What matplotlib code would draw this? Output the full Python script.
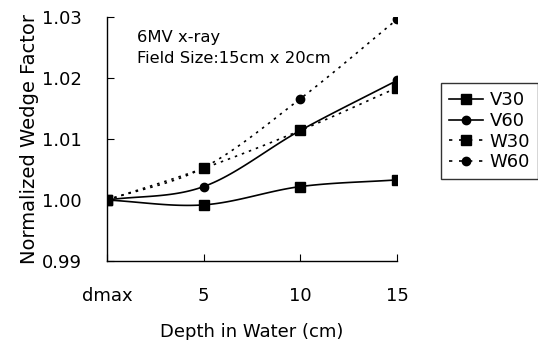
import numpy as np
import matplotlib
matplotlib.use("Agg")
import matplotlib.pyplot as plt

plt.rcParams['font.family'] = ['DejaVu Sans']

categories = ["dmax", "5", "10", "15"]
V30 = [1.0000, 0.9992, 1.0022, 1.0033]
V60 = [1.0000, 1.0022, 1.0114, 1.0196]
W30 = [1.0000, 1.0052, 1.0114, 1.0184]
W60 = [1.0000, 1.0053, 1.0166, 1.0296]
yticks = [0.99, 1.00, 1.01, 1.02, 1.03]


def smooth(xs, ys, n=30):
    xs = np.asarray(xs, float)
    ys = np.asarray(ys, float)
    px = np.concatenate([[2 * xs[0] - xs[1]], xs, [2 * xs[-1] - xs[-2]]])
    py = np.concatenate([[2 * ys[0] - ys[1]], ys, [2 * ys[-1] - ys[-2]]])
    outx, outy = [], []
    t = np.linspace(0, 1, n)
    for i in range(1, len(px) - 2):
        for arr, out in ((px, outx), (py, outy)):
            p0, p1, p2, p3 = arr[i - 1], arr[i], arr[i + 1], arr[i + 2]
            seg = 0.5 * ((2 * p1) + (-p0 + p2) * t +
                         (2 * p0 - 5 * p1 + 4 * p2 - p3) * t ** 2 +
                         (-p0 + 3 * p1 - 3 * p2 + p3) * t ** 3)
            out.extend(seg if i == 1 else seg[1:])
    return np.array(outx), np.array(outy)


fig = plt.figure(figsize=(5.38, 3.40), dpi=100)
ax = fig.add_axes([107 / 538, 1 - 261 / 340, 290 / 538, 244 / 340])

x = np.arange(len(categories))
series = [
    ("V30", V30, '-', 's', 6.5),
    ("V60", V60, '-', 'o', 6),
    ("W30", W30, (0, (1.5, 3)), 's', 6.5),
    ("W60", W60, (0, (1.5, 3)), 'o', 6),
]
for name, vals, ls, mk, ms in series:
    sx, sy = smooth(x, vals)
    ax.plot(sx, sy, color='black', lw=1.2, ls=ls)
    ax.plot(x, vals, ls='none', marker=mk, ms=ms, color='black')
    ax.plot([], [], color='black', lw=1.2, ls=ls if ls == '-' else (0, (2, 4)),
            marker=mk, ms=ms, label=name)

ax.set_xlim(0, 3)
ax.set_ylim(0.99, 1.03)
ax.set_xticks(x)
ax.set_xticklabels(categories)
ax.set_yticks(yticks)
ax.set_yticklabels([f"{v:.2f}" for v in yticks])
ax.spines['top'].set_visible(False)
ax.spines['right'].set_visible(False)
for s in ('left', 'bottom'):
    ax.spines[s].set_linewidth(1.0)
ax.tick_params(axis='x', direction='in', length=5, pad=19, labelsize=13)
ax.tick_params(axis='y', direction='in', length=5, pad=18, labelsize=13)
ax.set_xlabel("Depth in Water (cm)", fontsize=13, labelpad=13)
ax.set_ylabel("Normalized Wedge Factor", fontsize=14, labelpad=2)

ax.text(0.103, 0.916, "6MV x-ray", transform=ax.transAxes, fontsize=11.8,
        va='center', ha='left')
ax.text(0.103, 0.828, "Field Size:15cm x 20cm", transform=ax.transAxes,
        fontsize=11.8, va='center', ha='left')

leg = fig.legend(loc='upper left', bbox_to_anchor=(441 / 538, 1 - 83 / 340),
                 frameon=True, fancybox=False, edgecolor='black', fontsize=13,
                 handlelength=1.9, handletextpad=0.35, borderpad=0.45,
                 labelspacing=0.15, borderaxespad=0)
leg.get_frame().set_linewidth(1.0)

fig.savefig("out.png", dpi=100)
